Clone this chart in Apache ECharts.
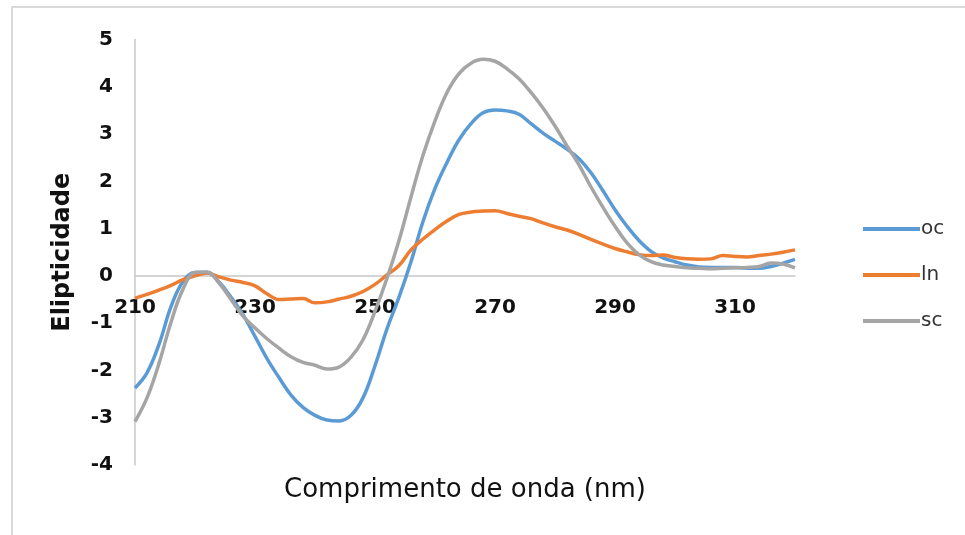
<!DOCTYPE html>
<html>
<head>
<meta charset="utf-8">
<script src="https://cdn.jsdelivr.net/npm/echarts@6/dist/echarts.min.js"></script>
<style>
html, body { margin: 0; padding: 0; background: #fff; }
#chart { width: 965px; height: 535px; }
</style>
</head>
<body>
<div id="chart"></div>
<script>
// comprimento de onda (nm), passo de 2 nm
var wavelengths = [210, 212, 214, 216, 218, 220, 222, 224, 226, 228, 230, 232, 234, 236, 238, 240, 242, 244, 246, 248,
	250, 252, 254, 256, 258, 260, 262, 264, 266, 268, 270, 272, 274, 276, 278, 280, 282, 284, 286, 288,
	290, 292, 294, 296, 298, 300, 302, 304, 306, 308, 310, 312, 314, 316, 318, 320];

var ocValues = [-2.37, -2.05, -1.45, -0.65, -0.12, 0.07, 0.07, -0.13, -0.45, -0.82, -1.28, -1.75, -2.15, -2.52, -2.78, -2.95, -3.05, -3.07, -2.95, -2.58,
	-1.90, -1.12, -0.45, 0.30, 1.15, 1.85, 2.40, 2.88, 3.22, 3.45, 3.51, 3.49, 3.42, 3.22, 3.02, 2.85, 2.68, 2.48, 2.18, 1.80,
	1.40, 1.05, 0.75, 0.52, 0.38, 0.30, 0.23, 0.19, 0.18, 0.18, 0.18, 0.16, 0.16, 0.20, 0.27, 0.35];

var lnValues = [-0.47, -0.39, -0.30, -0.20, -0.08, 0.00, 0.06, -0.02, -0.09, -0.14, -0.21, -0.38, -0.50, -0.49, -0.48, -0.57, -0.55, -0.49, -0.43, -0.33,
	-0.18, 0.02, 0.22, 0.55, 0.78, 0.98, 1.16, 1.30, 1.35, 1.37, 1.38, 1.32, 1.26, 1.21, 1.12, 1.04, 0.97, 0.88, 0.77, 0.67,
	0.58, 0.51, 0.45, 0.43, 0.44, 0.39, 0.36, 0.35, 0.36, 0.43, 0.41, 0.40, 0.43, 0.46, 0.50, 0.55];

var scValues = [-3.08, -2.58, -1.85, -0.98, -0.28, 0.07, 0.08, -0.15, -0.50, -0.85, -1.10, -1.33, -1.53, -1.71, -1.83, -1.89, -1.97, -1.93, -1.72, -1.35,
	-0.75, -0.05, 0.75, 1.67, 2.55, 3.28, 3.88, 4.28, 4.50, 4.58, 4.54, 4.38, 4.17, 3.88, 3.55, 3.17, 2.75, 2.35, 1.88, 1.45,
	1.05, 0.70, 0.45, 0.30, 0.23, 0.20, 0.17, 0.16, 0.15, 0.16, 0.17, 0.18, 0.20, 0.27, 0.25, 0.17];

var seriesNames = ['oc', 'ln', 'sc'];
var xTickLabels = [210, 230, 250, 270, 290, 310];

function pares(ys) {
	return wavelengths.map(function(x, i) { return [x, ys[i]]; });
}

var myChart = echarts.init(document.getElementById('chart'));
var fonte = 'DejaVu Sans';

// grade: eixo x desenhado na altura do zero (-4..5)
var gridTop = 39.5, gridBottom = 70;
var gridHeight = 535 - gridTop - gridBottom;
var zeroOffset = -gridHeight * 4 / 9;

var option = {
	backgroundColor: '#fff',
	animation: false,
	color: ['#5B9BD5', '#ED7D31', '#A5A5A5'],
	graphic: [{
		type: 'rect',
		shape: { x: 12, y: 7, width: 1000, height: 600 },
		style: { fill: 'none', stroke: '#d9d9d9', lineWidth: 2 },
		silent: true
	}],
	grid: {
		left: 135,
		right: 170,
		top: gridTop,
		bottom: gridBottom,
		containLabel: false,
		outerBoundsMode: 'none'
	},
	legend: {
		orient: 'vertical',
		left: 858,
		top: 214,
		icon: 'rect',
		itemWidth: 57,
		itemHeight: 4,
		itemGap: 26,
		data: seriesNames,
		textStyle: { fontFamily: fonte, fontSize: 20, color: '#333', padding: [0, 0, 0, -4] }
	},
	xAxis: {
		type: 'value',
		position: 'bottom',
		offset: zeroOffset,
		min: 210,
		max: 320,
		interval: 10,
		name: 'Comprimento de onda (nm)',
		nameLocation: 'middle',
		nameGap: 201,
		nameTextStyle: { fontFamily: fonte, fontSize: 26, color: '#111' },
		axisLine: { onZero: false, lineStyle: { color: '#c8c8c8', width: 1.5 } },
		axisTick: { show: false },
		splitLine: { show: false },
		axisLabel: {
			margin: 22,
			fontFamily: fonte,
			fontWeight: 'bold',
			fontSize: 20,
			color: '#111',
			formatter: function(v) {
				return xTickLabels.indexOf(v) >= 0 ? String(v) : '';
			}
		}
	},
	yAxis: {
		type: 'value',
		min: -4,
		max: 5,
		interval: 1,
		name: 'Elipticidade',
		nameLocation: 'middle',
		nameGap: 60,
		nameTextStyle: { fontFamily: fonte, fontSize: 24, fontWeight: 'bold', color: '#111' },
		axisLine: { show: true, onZero: false, lineStyle: { color: '#c8c8c8', width: 1.5 } },
		axisTick: { show: false },
		splitLine: { show: false },
		axisLabel: {
			margin: 22,
			fontFamily: fonte,
			fontWeight: 'bold',
			fontSize: 20,
			color: '#111'
		}
	},
	series: [{
		name: 'oc',
		type: 'line',
		smooth: 0.4,
		showSymbol: false,
		lineStyle: { width: 3.5 },
		data: pares(ocValues)
	}, {
		name: 'ln',
		type: 'line',
		smooth: 0.4,
		showSymbol: false,
		lineStyle: { width: 3.5 },
		data: pares(lnValues)
	}, {
		name: 'sc',
		type: 'line',
		smooth: 0.4,
		showSymbol: false,
		lineStyle: { width: 3.5 },
		data: pares(scValues)
	}]
};
myChart.setOption(option);
</script>
</body>
</html>
